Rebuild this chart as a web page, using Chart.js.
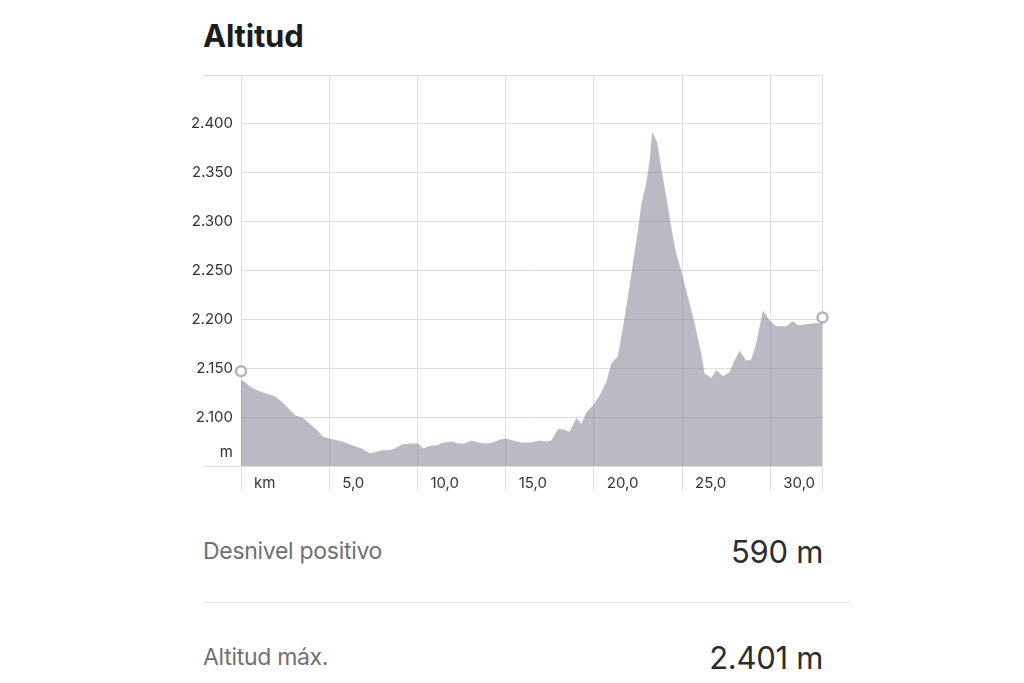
<!DOCTYPE html>
<html lang="es">
<head>
<meta charset="utf-8">
<title>Altitud</title>
<script src="https://cdn.jsdelivr.net/npm/chart.js@4.4.1/dist/chart.umd.min.js"></script>
<style>
  html, body { margin: 0; padding: 0; background: #fff; }
  body { width: 1024px; height: 683px; position: relative; overflow: hidden; font-family: Inter, "Noto Sans", sans-serif; }
  h1 { position: absolute; left: 203px; top: 16px; margin: 0; font-size: 31px; line-height: 40px; font-weight: 700; color: #1c1c1e; letter-spacing: -0.2px; }
  #caja { position: absolute; left: 190px; top: 65px; width: 640px; height: 435px; }
  .fila { position: absolute; left: 203px; width: 620px; height: 40px; display: flex; justify-content: space-between; align-items: center; }
  .etiqueta { font-size: 23px; color: #707073; letter-spacing: -0.3px; }
  .valor { font-size: 31px; color: #2c2c2e; letter-spacing: -0.3px; }
  .separador { position: absolute; left: 203px; width: 647px; top: 602px; border-top: 1px solid #e6e6ea; }
</style>
</head>
<body>
<h1>Altitud</h1>
<div id="caja"><canvas id="graficoAltitud"></canvas></div>
<div class="fila" style="top:531px"><span class="etiqueta">Desnivel positivo</span><span class="valor">590 m</span></div>
<div class="separador"></div>
<div class="fila" style="top:637px"><span class="etiqueta">Altitud máx.</span><span class="valor">2.401 m</span></div>

<script>
const distKm = [0, 0.23, 0.51, 0.98, 1.46, 1.93, 2.30, 2.68, 3.06, 3.53,
  3.91, 4.29, 4.66, 5.04, 5.51, 5.89, 6.36, 6.83, 7.30, 7.59,
  7.97, 8.34, 8.72, 9.10, 9.57, 10.04, 10.32, 10.80, 11.08, 11.46,
  11.93, 12.30, 12.68, 13.06, 13.44, 13.91, 14.29, 14.67, 15.05, 15.42,
  15.89, 16.46, 16.93, 17.31, 17.59, 17.97, 18.35, 18.63, 19.01, 19.29,
  19.58, 19.95, 20.33, 20.71, 20.99, 21.36, 21.65, 21.93, 22.21, 22.50,
  22.69, 22.97, 23.16, 23.31, 23.59, 23.78, 24.11, 24.39, 24.67, 24.95,
  25.33, 25.71, 26.09, 26.27, 26.65, 26.94, 27.31, 27.69, 27.97, 28.26,
  28.64, 28.92, 29.20, 29.58, 29.95, 30.33, 30.90, 31.27, 31.56, 32.03,
  32.50, 32.84, 32.96];

const altM = [2138, 2136, 2131, 2127, 2124, 2121, 2116, 2109, 2102, 2099,
  2093, 2087, 2080, 2078, 2076, 2074, 2071, 2068, 2063, 2064,
  2066, 2066, 2068, 2072, 2073, 2073, 2068, 2071, 2071, 2074,
  2075, 2073, 2073, 2076, 2074, 2073, 2074, 2077, 2078, 2076,
  2074, 2074, 2076, 2075, 2076, 2088, 2087, 2085, 2099, 2093,
  2105, 2112, 2122, 2136, 2155, 2162, 2192, 2223, 2257, 2291,
  2318, 2339, 2363, 2392, 2381, 2359, 2325, 2294, 2267, 2250,
  2223, 2196, 2165, 2145, 2140, 2148, 2142, 2146, 2158, 2168,
  2158, 2159, 2175, 2209, 2199, 2193, 2193, 2198, 2194, 2195,
  2196, 2196, 2197];

// circulos de inicio y fin
const marcaKm = [0, 32.96];
const marcaAlt = [2147, 2202];

const ticksKm = [0, 5, 10, 15, 20, 25, 30, 32.96];
const ticksAlt = [2050, 2100, 2150, 2200, 2250, 2300, 2350, 2400, 2450];

const gris = "#dedee2";

function miles(v) {
  return Math.floor(v / 1000) + "." + String(v % 1000).padStart(3, "0");
}

new Chart(document.getElementById("graficoAltitud"), {
  type: "line",
  data: {
    datasets: [
      {
        data: distKm.map((k, i) => ({ x: k, y: altM[i] })),
        fill: "start",
        backgroundColor: "rgba(117,117,140,0.5)",
        borderWidth: 0,
        pointRadius: 0,
        tension: 0
      },
      {
        data: marcaKm.map((k, i) => ({ x: k, y: marcaAlt[i] })),
        showLine: false,
        pointRadius: 5,
        pointBorderWidth: 2.5,
        pointBorderColor: "#b3b3bb",
        pointBackgroundColor: "#fff",
        clip: false
      }
    ]
  },
  options: {
    responsive: true,
    maintainAspectRatio: false,
    animation: false,
    layout: { padding: { top: 10, right: 7, left: 0, bottom: 0 } },
    plugins: { legend: { display: false }, tooltip: { enabled: false } },
    scales: {
      x: {
        type: "linear",
        min: 0,
        max: 32.96,
        afterBuildTicks: s => { s.ticks = ticksKm.map(v => ({ value: v })); },
        afterFit: s => { s.height = 34; },
        grid: { color: gris, tickColor: gris, tickLength: 24 },
        border: { color: gris },
        ticks: {
          align: "start",
          labelOffset: 13,
          padding: -16,
          maxRotation: 0,
          autoSkip: false,
          color: "#333",
          font: { family: "Inter", size: 15 },
          callback: v => v === 0 ? "km" : (v % 5 === 0 ? v.toFixed(1).replace(".", ",") : "")
        }
      },
      y: {
        min: 2050,
        max: 2450,
        afterBuildTicks: s => { s.ticks = ticksAlt.map(v => ({ value: v })); },
        afterFit: s => { s.width = 51; },
        grid: {
          color: gris,
          tickLength: 38,
          tickColor: c => (c.tick && (c.tick.value === 2050 || c.tick.value === 2450)) ? gris : "rgba(0,0,0,0)"
        },
        border: { color: gris },
        ticks: {
          padding: -30,
          color: "#333",
          font: { family: "Inter", size: 15, lineHeight: 0.87 },
          callback: v => v === 2050 ? ["m", "", ""] : (v === 2450 ? "" : miles(v))
        }
      }
    }
  }
});
</script>
</body>
</html>
